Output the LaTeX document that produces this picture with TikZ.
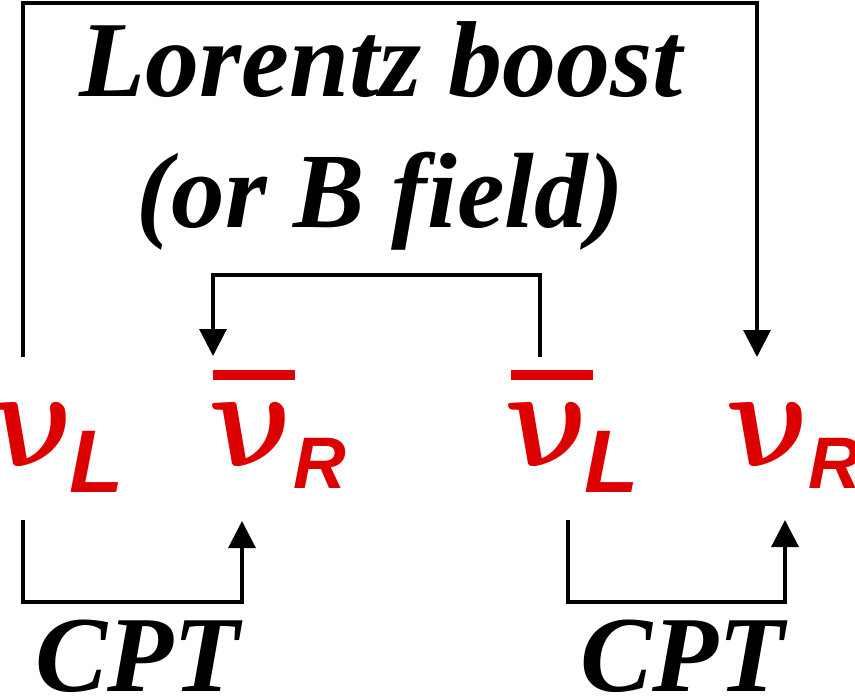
\documentclass[tikz,border=0pt]{standalone}
\usepackage{fontspec}
\setmainfont{Liberation Serif}
\newfontfamily\arialfont{Liberation Sans}
\usetikzlibrary{arrows.meta}
\definecolor{nured}{RGB}{221,0,0}
\tikzset{
  greek/.style={text=nured, font=\boldmath, inner sep=0pt, anchor=base, xslant=-0.4, xscale=0.93, scale=14.2, transform shape},
  subL/.style={text=nured, font=\arialfont\fontsize{89}{89}\selectfont\bfseries\itshape, inner sep=0pt, anchor=base},
  subR/.style={text=nured, font=\arialfont\fontsize{73}{73}\selectfont\bfseries\itshape, inner sep=0pt, anchor=base},
  lbl/.style={font=\fontsize{108}{108}\selectfont\bfseries\itshape, inner sep=0pt, anchor=base},
  conn/.style={line width=3.2pt, line join=miter, line cap=butt},
  arr/.style={conn, -{Triangle[length=27pt,width=27pt]}},
  barfill/.style={fill=nured}
}
\begin{document}
\begin{tikzpicture}[x=1pt,y=-1pt]
\useasboundingbox (0,0) rectangle (855,698);
% particles
\node[shift={(51,466)}, greek] (nuL) at (0,0) {$\nu$};
\node[subL] (subLa) at (97,492) {L};
\node[shift={(270,466)}, greek] (nubR) at (0,0) {$\nu$};
\node[subR] (subRa) at (320,488) {R};
\node[shift={(566,466)}, greek] (nubL) at (0,0) {$\nu$};
\node[subL] (subLb) at (612,492) {L};
\node[shift={(787,466)}, greek] (nuR) at (0,0) {$\nu$};
\node[subR] (subRb) at (835,488) {R};
\fill[barfill] (213,370) rectangle (295,380);
\fill[barfill] (511,370) rectangle (593,380);
% labels
\node[lbl] (lor) at (381,97) {Lorentz boost};
\node[lbl, font=\fontsize{107}{107}\selectfont\bfseries\itshape] (bfield) at (380,228) {(or B field)};
\node[lbl, text depth=0pt] (cpt1) at (137,691) {CPT};
\node[lbl, text depth=0pt] (cpt2) at (682,691) {CPT};
% connector end points
\coordinate (a1) at (23,357);
\coordinate (a2) at (757,357);
\coordinate (atop) at (0,3);
\coordinate (b1) at (540,357);
\coordinate (b2) at (213,356);
\coordinate (btop) at (0,275);
\coordinate (c1) at (23,520);
\coordinate (c2) at (242,521);
\coordinate (d1) at (568,520);
\coordinate (d2) at (785,520);
\coordinate (cbot) at (0,602);
% connectors
\draw[arr] (a1) -- (a1 |- atop) -- (a2 |- atop) -- (a2);
\draw[arr] (b1) -- (b1 |- btop) -- (b2 |- btop) -- (b2);
\draw[arr] (c1) -- (c1 |- cbot) -- (c2 |- cbot) -- (c2);
\draw[arr] (d1) -- (d1 |- cbot) -- (d2 |- cbot) -- (d2);
\end{tikzpicture}
\end{document}
